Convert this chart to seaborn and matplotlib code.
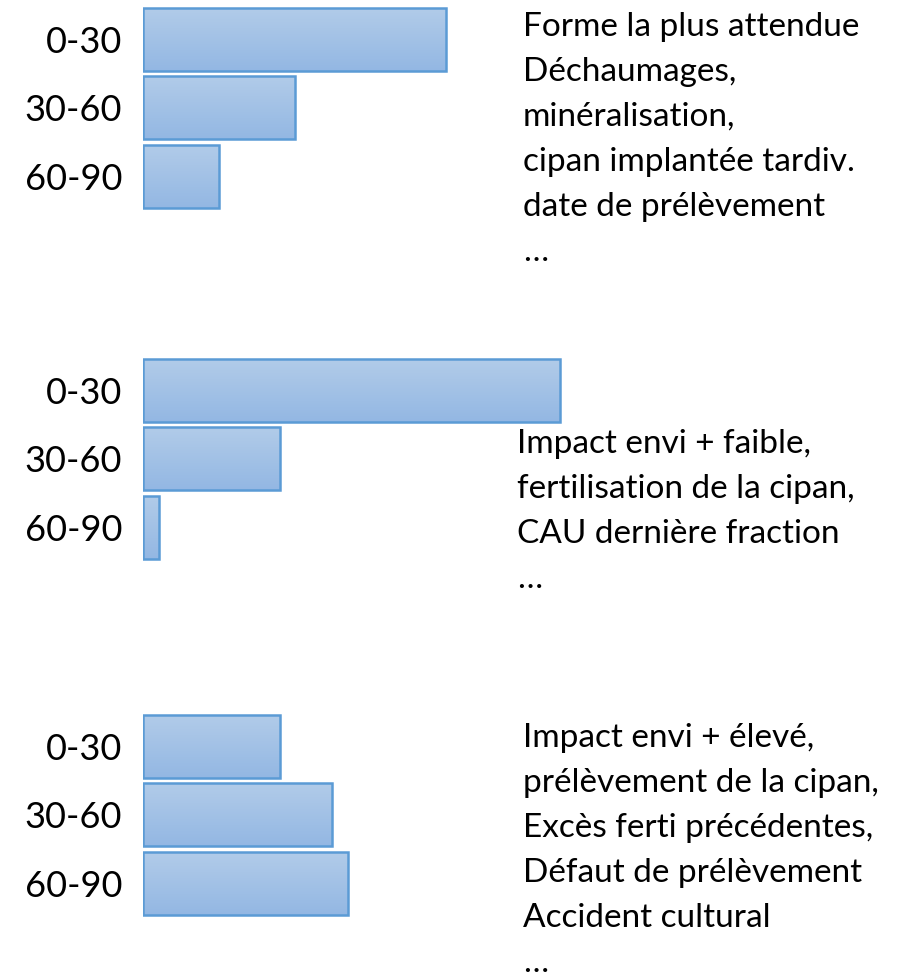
import numpy as np
import pandas as pd
import matplotlib
matplotlib.use("Agg")
import matplotlib.pyplot as plt
from matplotlib.colors import LinearSegmentedColormap
import seaborn as sns

# ==========================================
# DATA
# ==========================================
depths = ["0-30", "30-60", "60-90"]

profile_1 = [30.3, 15.2, 7.6]
profile_2 = [41.7, 13.7, 1.6]
profile_3 = [13.7, 18.9, 20.5]

notes_1 = ["Forme la plus attendue", "Déchaumages,", "minéralisation,",
           "cipan implantée tardiv.", "date de prélèvement", "…"]
notes_2 = ["Impact envi + faible,", "fertilisation de la cipan,",
           "CAU dernière fraction", "…"]
notes_3 = ["Impact envi + élevé,", "prélèvement de la cipan,",
           "Excès ferti précédentes,", "Défaut de prélèvement",
           "Accident cultural", "…"]

# ==========================================
# STYLE
# ==========================================
sns.set_style("white")
plt.rcParams["font.family"] = ["Lato", "DejaVu Sans"]
plt.rcParams["text.color"] = "black"
plt.rcParams["ytick.color"] = "black"

W, H = 914, 976
TOP_COLOR = "#b2cce9"
BOTTOM_COLOR = "#93b7e3"
EDGE_COLOR = "#5b9bd5"
grad_cmap = LinearSegmentedColormap.from_list("bar_grad", [TOP_COLOR, BOTTOM_COLOR])

fig = plt.figure(figsize=(W / 100, H / 100), dpi=100)

# layout in pixels: (axes top, text left, first baseline)
panels = [
    (profile_1, notes_1, 5, 523, 36),
    (profile_2, notes_2, 356, 517, 453),
    (profile_3, notes_3, 712, 523, 747),
]
AX_LEFT, AX_W, AX_H = 143, 430, 205.5
LINE_STEP = 45


def gradient_bars(ax):
    grad = np.linspace(0, 1, 256).reshape(-1, 1)
    for patch in ax.patches:
        x0, y0 = patch.get_x(), patch.get_y()
        w, h = patch.get_width(), patch.get_height()
        patch.set_facecolor("none")
        im = ax.imshow(grad, cmap=grad_cmap, aspect="auto", origin="upper",
                       extent=(x0, x0 + w, y0 + h, y0),
                       zorder=patch.get_zorder() - 0.1, interpolation="bilinear")
        im.set_clip_path(patch)


for values, notes, top, text_x, baseline in panels:
    ax = fig.add_axes([AX_LEFT / W, 1 - (top + AX_H) / H, AX_W / W, AX_H / H])
    df = pd.DataFrame({"depth": depths, "value": values})
    sns.barplot(data=df, x="value", y="depth", ax=ax, orient="h",
                width=0.92, color=TOP_COLOR, edgecolor=EDGE_COLOR,
                linewidth=1.8, saturation=1)
    gradient_bars(ax)
    ax.set_xlim(0, 43)
    ax.set_ylim(2.5, -0.5)
    ax.set_xlabel("")
    ax.set_ylabel("")
    ax.set_xticks([])
    ax.tick_params(axis="y", length=0, pad=15, labelsize=26, labelcolor="black")
    sns.despine(ax=ax, left=True, bottom=True)

    for i, line in enumerate(notes):
        fig.text(text_x / W, 1 - (baseline + i * LINE_STEP) / H, line,
                 fontsize=24, va="baseline", ha="left", color="black")

fig.savefig("out.png", dpi=100)
